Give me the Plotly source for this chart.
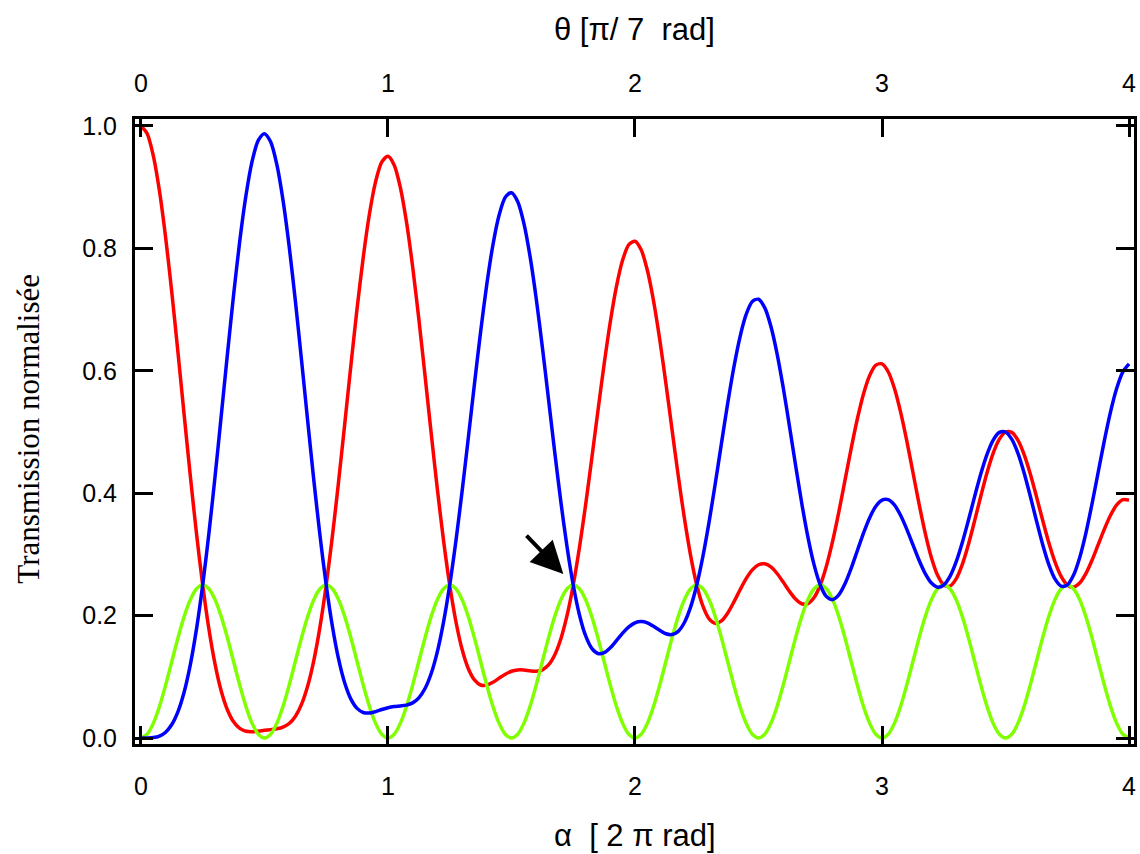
import plotly.graph_objects as go

# alpha in units of 2*pi rad, step 0.025
alpha = [round(i * 0.025, 3) for i in range(161)]

red = [1.0000, 0.9877, 0.9516, 0.8937, 0.8177, 0.7280, 0.6296, 0.5278, 0.4278, 0.3339,
       0.2500, 0.1785, 0.1208, 0.0769, 0.0461, 0.0264, 0.0156, 0.0110, 0.0103, 0.0112,
       0.0125, 0.0137, 0.0150, 0.0177, 0.0237, 0.0353, 0.0549, 0.0849, 0.1269, 0.1820,
       0.2500, 0.3297, 0.4185, 0.5131, 0.6091, 0.7017, 0.7856, 0.8561, 0.9091, 0.9412,
       0.9505, 0.9364, 0.8998, 0.8431, 0.7698, 0.6844, 0.5920, 0.4977, 0.4065, 0.3228,
       0.2500, 0.1904, 0.1449, 0.1135, 0.0948, 0.0866, 0.0864, 0.0910, 0.0978, 0.1043,
       0.1091, 0.1112, 0.1111, 0.1097, 0.1090, 0.1114, 0.1194, 0.1357, 0.1622, 0.2002,
       0.2500, 0.3108, 0.3807, 0.4566, 0.5347, 0.6106, 0.6798, 0.7378, 0.7809, 0.8062,
       0.8117, 0.7976, 0.7642, 0.7145, 0.6514, 0.5797, 0.5038, 0.4287, 0.3590, 0.2985,
       0.2500, 0.2153, 0.1946, 0.1873, 0.1914, 0.2040, 0.2220, 0.2418, 0.2603, 0.2747,
       0.2831, 0.2846, 0.2795, 0.2688, 0.2547, 0.2397, 0.2270, 0.2194, 0.2196, 0.2295,
       0.2500, 0.2811, 0.3216, 0.3692, 0.4209, 0.4729, 0.5212, 0.5622, 0.5923, 0.6092,
       0.6113, 0.5984, 0.5715, 0.5329, 0.4859, 0.4342, 0.3823, 0.3345, 0.2946, 0.2658,
       0.2500, 0.2482, 0.2600, 0.2837, 0.3166, 0.3552, 0.3955, 0.4335, 0.4655, 0.4883,
       0.5000, 0.4994, 0.4868, 0.4635, 0.4318, 0.3948, 0.3561, 0.3193, 0.2877, 0.2640,
       0.2500, 0.2465, 0.2531, 0.2685, 0.2904, 0.3158, 0.3414, 0.3640, 0.3808, 0.3894,
       0.3887]

blue = [0.0000, 0.0001, 0.0007, 0.0032, 0.0095, 0.0220, 0.0431, 0.0752, 0.1200, 0.1783,
        0.2500, 0.3337, 0.4270, 0.5261, 0.6266, 0.7236, 0.8116, 0.8859, 0.9420, 0.9766,
        0.9875, 0.9741, 0.9373, 0.8792, 0.8036, 0.7148, 0.6179, 0.5182, 0.4208, 0.3302,
        0.2500, 0.1826, 0.1292, 0.0899, 0.0636, 0.0484, 0.0417, 0.0408, 0.0432, 0.0466,
        0.0495, 0.0514, 0.0524, 0.0538, 0.0574, 0.0656, 0.0808, 0.1054, 0.1412, 0.1894,
        0.2500, 0.3219, 0.4028, 0.4896, 0.5780, 0.6634, 0.7409, 0.8060, 0.8545, 0.8835,
        0.8909, 0.8766, 0.8412, 0.7873, 0.7183, 0.6386, 0.5533, 0.4674, 0.3856, 0.3120,
        0.2500, 0.2014, 0.1671, 0.1465, 0.1381, 0.1394, 0.1475, 0.1591, 0.1714, 0.1816,
        0.1883, 0.1902, 0.1881, 0.1825, 0.1759, 0.1703, 0.1690, 0.1743, 0.1887, 0.2138,
        0.2500, 0.2970, 0.3531, 0.4158, 0.4814, 0.5460, 0.6053, 0.6551, 0.6920, 0.7131,
        0.7169, 0.7032, 0.6728, 0.6282, 0.5726, 0.5103, 0.4458, 0.3837, 0.3282, 0.2828,
        0.2500, 0.2311, 0.2261, 0.2338, 0.2519, 0.2771, 0.3060, 0.3348, 0.3600, 0.3786,
        0.3887, 0.3894, 0.3808, 0.3640, 0.3414, 0.3158, 0.2904, 0.2685, 0.2531, 0.2465,
        0.2500, 0.2640, 0.2877, 0.3194, 0.3561, 0.3948, 0.4318, 0.4635, 0.4868, 0.4994,
        0.5000, 0.4883, 0.4655, 0.4335, 0.3955, 0.3552, 0.3166, 0.2837, 0.2600, 0.2482,
        0.2500, 0.2658, 0.2946, 0.3345, 0.3823, 0.4342, 0.4859, 0.5329, 0.5715, 0.5983,
        0.6113]

green = [0.0000, 0.0061, 0.0239, 0.0515, 0.0864, 0.1250, 0.1636, 0.1985, 0.2261, 0.2439,
         0.2500, 0.2439, 0.2261, 0.1985, 0.1636, 0.1250, 0.0864, 0.0515, 0.0239, 0.0061,
         0.0000, 0.0061, 0.0239, 0.0515, 0.0864, 0.1250, 0.1636, 0.1985, 0.2261, 0.2439,
         0.2500, 0.2439, 0.2261, 0.1985, 0.1636, 0.1250, 0.0864, 0.0515, 0.0239, 0.0061,
         0.0000, 0.0061, 0.0239, 0.0515, 0.0864, 0.1250, 0.1636, 0.1985, 0.2261, 0.2439,
         0.2500, 0.2439, 0.2261, 0.1985, 0.1636, 0.1250, 0.0864, 0.0515, 0.0239, 0.0061,
         0.0000, 0.0061, 0.0239, 0.0515, 0.0864, 0.1250, 0.1636, 0.1985, 0.2261, 0.2439,
         0.2500, 0.2439, 0.2261, 0.1985, 0.1636, 0.1250, 0.0864, 0.0515, 0.0239, 0.0061,
         0.0000, 0.0061, 0.0239, 0.0515, 0.0864, 0.1250, 0.1636, 0.1985, 0.2261, 0.2439,
         0.2500, 0.2439, 0.2261, 0.1985, 0.1636, 0.1250, 0.0864, 0.0515, 0.0239, 0.0061,
         0.0000, 0.0061, 0.0239, 0.0515, 0.0864, 0.1250, 0.1636, 0.1985, 0.2261, 0.2439,
         0.2500, 0.2439, 0.2261, 0.1985, 0.1636, 0.1250, 0.0864, 0.0515, 0.0239, 0.0061,
         0.0000, 0.0061, 0.0239, 0.0515, 0.0864, 0.1250, 0.1636, 0.1985, 0.2261, 0.2439,
         0.2500, 0.2439, 0.2261, 0.1985, 0.1636, 0.1250, 0.0864, 0.0515, 0.0239, 0.0061,
         0.0000, 0.0061, 0.0239, 0.0515, 0.0864, 0.1250, 0.1636, 0.1985, 0.2261, 0.2439,
         0.2500, 0.2439, 0.2261, 0.1985, 0.1636, 0.1250, 0.0864, 0.0515, 0.0239, 0.0061,
         0.0000]

x_ticks = [0, 1, 2, 3, 4]
x_ticklabels = ["0", "1", "2", "3", "4"]
top_ticklabels = ["0", "1", "2", "3", "4"]
y_ticks = [0.0, 0.2, 0.4, 0.6, 0.8, 1.0]
y_ticklabels = ["0.0", "0.2", "0.4", "0.6", "0.8", "1.0"]

# arrow: head and tail in data coords
arrow_head = (1.71, 0.268)
arrow_tail = (1.555, 0.333)

SANS = "Liberation Sans, Arial, sans-serif"
SERIF = "Liberation Serif, Times New Roman, serif"

fig = go.Figure()
line_w = 3.5
fig.add_trace(go.Scatter(x=alpha, y=red, mode="lines",
                         line=dict(color="#ff0000", width=line_w, shape="spline", smoothing=0.8),
                         showlegend=False, hoverinfo="skip"))
fig.add_trace(go.Scatter(x=alpha, y=green, mode="lines",
                         line=dict(color="#80ff00", width=line_w, shape="spline", smoothing=0.8),
                         showlegend=False, hoverinfo="skip"))
fig.add_trace(go.Scatter(x=alpha, y=blue, mode="lines",
                         line=dict(color="#0000ff", width=line_w, shape="spline", smoothing=0.8),
                         showlegend=False, hoverinfo="skip"))
# invisible trace to anchor the top axis
fig.add_trace(go.Scatter(x=[x_ticks[0], x_ticks[-1]], y=[0, 0], xaxis="x2", mode="lines",
                         line=dict(width=0, color="rgba(0,0,0,0)"),
                         showlegend=False, hoverinfo="skip"))

xr = [-0.024, 4.02]
yr = [-0.0098, 1.0114]

axis_common = dict(showline=True, linecolor="black", linewidth=3, ticks="inside",
                   ticklen=18, tickwidth=3, tickcolor="black", showgrid=False,
                   zeroline=False, tickfont=dict(family=SANS, size=25, color="black"))

fig.update_layout(
    width=1140, height=854,
    margin=dict(l=135, r=3, t=119, b=110),
    paper_bgcolor="white", plot_bgcolor="white",
    xaxis=dict(range=xr, tickvals=x_ticks, ticktext=x_ticklabels, mirror=True,
               ticklabelstandoff=18, **axis_common),
    xaxis2=dict(range=xr, tickvals=x_ticks, ticktext=top_ticklabels, overlaying="x",
                side="top", anchor="y", ticklabelstandoff=14, **axis_common),
    yaxis=dict(range=yr, tickvals=y_ticks, ticktext=y_ticklabels, mirror="ticks",
               ticklabelstandoff=10, **axis_common),
    annotations=[
        dict(text="α  [ 2 π rad]", x=0.5, y=-0.1456, xref="paper", yref="paper",
             showarrow=False, xanchor="center", yanchor="middle",
             font=dict(family=SANS, size=31, color="black")),
        dict(text="θ [π/ 7  rad]", x=0.5, y=1.1424, xref="paper", yref="paper",
             showarrow=False, xanchor="center", yanchor="middle",
             font=dict(family=SANS, size=31, color="black")),
        dict(text="Transmission normalisée", x=-0.1068, y=0.505, xref="paper", yref="paper",
             showarrow=False, xanchor="center", yanchor="middle", textangle=-90,
             font=dict(family=SERIF, size=31, color="black")),
        dict(x=arrow_head[0], y=arrow_head[1], ax=arrow_tail[0], ay=arrow_tail[1],
             xref="x", yref="y", axref="x", ayref="y", text="", showarrow=True,
             arrowhead=2, arrowsize=1.6, arrowwidth=4, arrowcolor="black"),
    ],
)

fig.write_html("out.html")
